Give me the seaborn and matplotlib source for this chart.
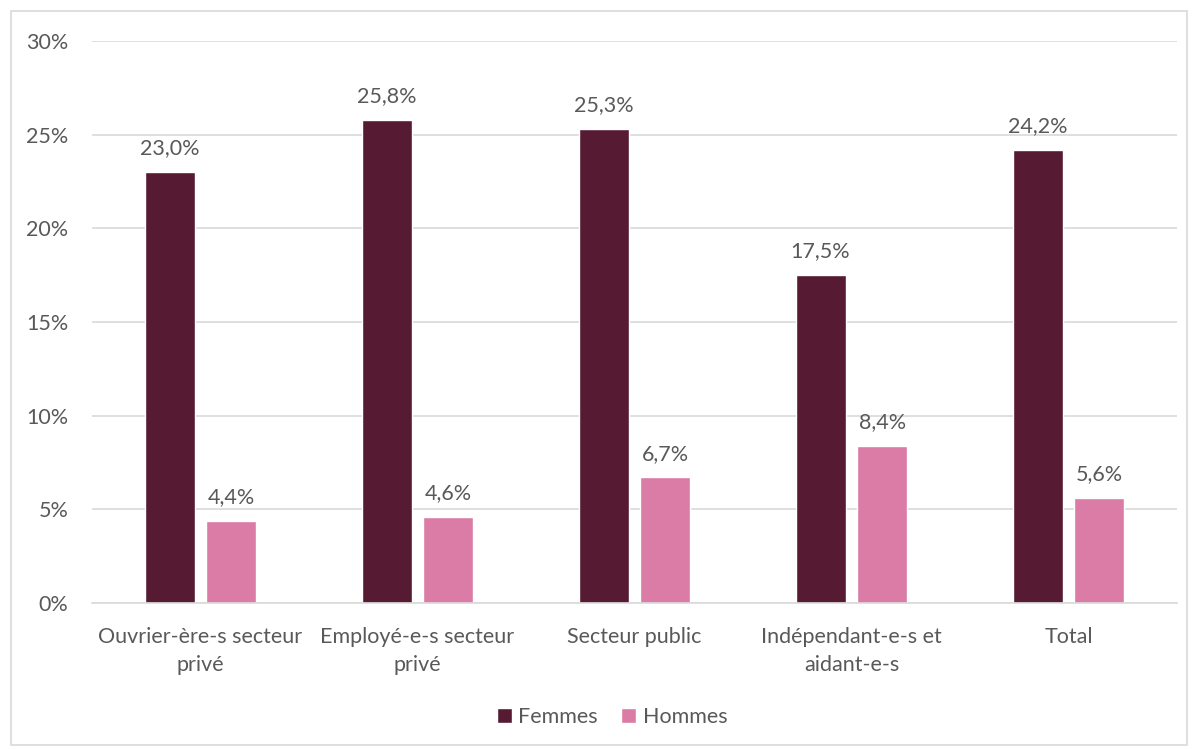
import matplotlib
matplotlib.use("Agg")
import matplotlib.pyplot as plt
import seaborn as sns
import pandas as pd
from matplotlib.patches import Rectangle
from matplotlib.ticker import FuncFormatter

categories = ["Ouvrier-ère-s secteur\nprivé", "Employé-e-s secteur\nprivé", "Secteur public",
              "Indépendant-e-s et\naidant-e-s", "Total"]
femmes = [23.0, 25.8, 25.3, 17.5, 24.2]
hommes = [4.4, 4.6, 6.7, 8.4, 5.6]
series = ["Femmes", "Hommes"]
yticks = [0, 5, 10, 15, 20, 25, 30]

df = pd.DataFrame({
    "cat": categories * 2,
    "val": femmes + hommes,
    "sexe": [series[0]] * len(categories) + [series[1]] * len(categories),
})

sns.set_theme(style="white")
plt.rcParams["font.family"] = ["Lato", "DejaVu Sans"]
text_color = "#595959"
fs = 15.5

fig = plt.figure(figsize=(11.95, 7.49), dpi=100)
ax = fig.add_axes([92 / 1195, 1 - 603 / 749, 1085 / 1195, 562 / 749])

palette = {"Femmes": "#561A33", "Hommes": "#DA7CA5"}
sns.barplot(data=df, x="cat", y="val", hue="sexe", palette=palette, ax=ax,
            width=0.57, gap=0.19, saturation=1, errorbar=None)

for cont in ax.containers:
    ax.bar_label(cont, labels=[f"{v:.1f}%".replace(".", ",") for v in cont.datavalues],
                 padding=10, fontsize=fs, color=text_color)

ax.set_ylim(0, 30)
ax.set_xlim(-0.5, len(categories) - 0.5)
ax.set_yticks(yticks)
ax.yaxis.set_major_formatter(FuncFormatter(lambda v, p: f"{v:.0f}%"))
ax.grid(axis="y", color="#D9D9D9", linewidth=1.2)
ax.set_axisbelow(True)
for side in ["top", "right", "left"]:
    ax.spines[side].set_visible(False)
ax.spines["bottom"].set_color("#D9D9D9")
ax.spines["bottom"].set_linewidth(1.2)
ax.tick_params(axis="y", length=0, pad=17, labelsize=fs, labelcolor=text_color)
ax.tick_params(axis="x", length=0, pad=17, labelsize=fs, labelcolor=text_color)
for lbl in ax.get_xticklabels():
    lbl.set_linespacing(1.55)
ax.set_xlabel("")
ax.set_ylabel("")

leg = ax.legend(loc="center", bbox_to_anchor=(612 / 1195, 1 - 717 / 749), bbox_transform=fig.transFigure,
                ncol=2, frameon=False, fontsize=fs, handlelength=0.7, handleheight=0.7,
                handletextpad=0.3, columnspacing=1.1)
for t in leg.get_texts():
    t.set_color(text_color)

fig.patches.append(Rectangle((11 / 1195, 4 / 749), 1176 / 1195, 734 / 749,
                             transform=fig.transFigure, fill=False,
                             edgecolor="#D9D9D9", linewidth=1.2))

fig.savefig("out.png", dpi=100, facecolor="white")
